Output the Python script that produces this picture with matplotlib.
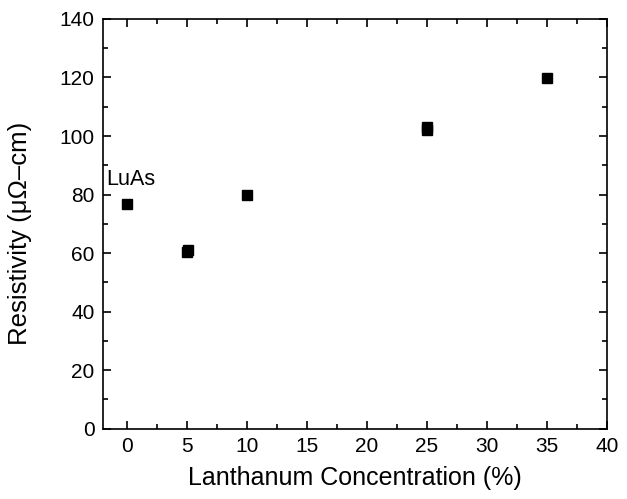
import matplotlib
matplotlib.use('Agg')
import matplotlib.pyplot as plt
from matplotlib.ticker import MultipleLocator

plt.rcParams['font.family'] = 'Liberation Sans'

# --- Data ------------------------------------------------------------
la_conc = [0, 5, 5.12, 10, 25, 25, 35]            # Lanthanum concentration (%)
resistivity = [76.7, 60.5, 61.0, 79.8, 102.0, 103.0, 119.7]  # micro-ohm cm

# --- Figure ----------------------------------------------------------
fig = plt.figure(figsize=(6.27, 4.99), dpi=100)
ax = fig.add_axes([0.164, 0.141, 0.804, 0.821])

ax.plot(la_conc, resistivity, linestyle='none', marker='s', markersize=7,
        color='black')

ax.text(-1.7, 83.2, 'LuAs', fontsize=15.5)

ax.set_xlim(-2, 40)
ax.set_ylim(0, 140)
ax.xaxis.set_major_locator(MultipleLocator(5))
ax.xaxis.set_minor_locator(MultipleLocator(2.5))
ax.yaxis.set_major_locator(MultipleLocator(20))
ax.yaxis.set_minor_locator(MultipleLocator(10))

ax.tick_params(which='both', direction='in', top=True, right=True,
               width=1.2, labelsize=15, pad=6)
ax.tick_params(which='major', length=6)
ax.tick_params(which='minor', length=3.5)
for sp in ax.spines.values():
    sp.set_linewidth(1.2)

ax.set_xlabel('Lanthanum Concentration (%)', fontsize=18, labelpad=7)
ax.set_ylabel('Resistivity (\u03bc\u03a9\u2013cm)', fontsize=18.5)
ax.yaxis.set_label_coords(-0.141, 0.477)

fig.savefig('out.png', dpi=100, facecolor='white')
